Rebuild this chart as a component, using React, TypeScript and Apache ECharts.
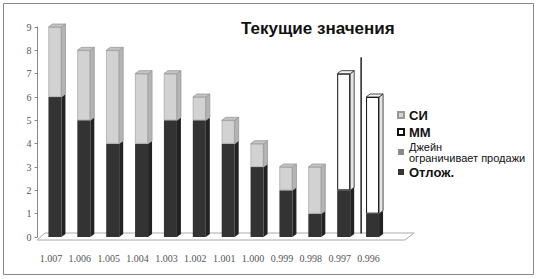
import React, { useEffect, useRef } from "react";
import * as echarts from "echarts";

const categories = ["1.007", "1.006", "1.005", "1.004", "1.003", "1.002", "1.001", "1.000", "0.999", "0.998", "0.997", "0.996"];
const otlozh = [6, 5, 4, 4, 5, 5, 4, 3, 2, 1, 2, 1];
const si: (number | null)[] = [3, 3, 4, 3, 2, 1, 1, 1, 1, 2, null, null];
const mm: (number | null)[] = [null, null, null, null, null, null, null, null, null, null, 5, 5];
const jane: (number | null)[] = categories.map(() => null);
const yTicks = [0, 1, 2, 3, 4, 5, 6, 7, 8, 9];

const DARK = "#333333";
const DARK_SIDE = "#222222";
const LIGHT = "#d2d2d2";
const LIGHT_SIDE = "#b4b4b4";
const LIGHT_TOP = "#c4c4c4";

export default function App() {
  const ref = useRef<HTMLDivElement>(null);
  useEffect(() => {
    document.body.style.margin = "0";
    const chart = echarts.init(ref.current!, undefined, { renderer: "svg" });
    const toSeries = (a: (number | null)[]) => a.map((v) => (v == null ? "-" : v));
    const depthData = categories.map((_, i) => [
      i,
      otlozh[i],
      si[i] != null ? (si[i] as number) : (mm[i] as number),
      si[i] != null ? 0 : 1,
    ]);
    const BW = 13;
    const boldLegend = { fontFamily: "Liberation Sans", fontWeight: "bold", fontSize: 13, lineHeight: 16, color: "#111" };
    const option: any = {
      animation: false,
      backgroundColor: "#ffffff",
      title: {
        text: "Текущие значения",
        left: 236,
        top: 15,
        textStyle: { fontFamily: "Liberation Sans", fontWeight: "bold", fontSize: 17, color: "#111" },
      },
      legend: {
        orient: "vertical",
        left: 392,
        top: 102,
        itemWidth: 6,
        itemHeight: 6,
        itemGap: 1,
        icon: "rect",
        data: [
          { name: "СИ", textStyle: boldLegend },
          { name: "ММ", textStyle: boldLegend },
          {
            name: "Джейн ограничивает продажи",
            textStyle: { fontFamily: "Liberation Sans", fontSize: 11, lineHeight: 11, color: "#111" },
          },
          { name: "Отлож.", textStyle: boldLegend },
        ],
        formatter: (name: string) =>
          name === "Джейн ограничивает продажи" ? "Джейн\nограничивает продажи" : name,
      },
      grid: { left: 40.5, right: 150, top: 27, bottom: 42, containLabel: false },
      xAxis: {
        type: "category",
        data: categories,
        offset: 3,
        axisLine: { show: false },
        axisTick: { show: false },
        axisLabel: {
          margin: 13,
          interval: 0,
          color: "#555",
          fontFamily: "Liberation Serif",
          fontSize: 10,
          padding: [0, 8, 0, 0],
        },
      },
      yAxis: {
        type: "value",
        min: 0,
        max: 9,
        interval: 1,
        offset: 3,
        splitLine: { show: false },
        axisLine: { show: true, lineStyle: { color: "#888" } },
        axisTick: { show: true, length: 3, lineStyle: { color: "#888" } },
        axisLabel: {
          margin: 6,
          color: "#555",
          fontFamily: "Liberation Serif",
          fontSize: 10,
          formatter: (v: number) => (yTicks.includes(v) ? String(v) : ""),
        },
      },
      graphic: [
        {
          type: "rect",
          shape: { x: 3.5, y: 3.5, width: 530, height: 271 },
          style: { fill: "none", stroke: "#888", lineWidth: 1 },
          silent: true,
        },
        {
          type: "polyline",
          shape: { points: [[37, 240], [405, 240], [414, 233], [45, 233], [37, 240]] },
          style: { fill: "none", stroke: "#aaa", lineWidth: 1 },
          silent: true,
          z: -1,
        },
      ],
      series: [
        {
          name: "Отлож.",
          type: "bar",
          stack: "s",
          barWidth: BW,
          data: otlozh,
          itemStyle: { color: DARK },
        },
        {
          name: "Джейн ограничивает продажи",
          type: "bar",
          stack: "s",
          barWidth: BW,
          data: toSeries(jane),
          itemStyle: { color: "#8a8a8a" },
        },
        {
          name: "СИ",
          type: "bar",
          stack: "s",
          barWidth: BW,
          data: toSeries(si),
          itemStyle: { color: LIGHT, borderColor: "#999", borderWidth: 0.6 },
        },
        {
          name: "ММ",
          type: "bar",
          stack: "s",
          barWidth: BW,
          data: toSeries(mm),
          itemStyle: { color: "#ffffff", borderColor: "#111", borderWidth: 1 },
        },
        {
          name: "depth",
          type: "custom",
          data: depthData,
          z: 3,
          silent: true,
          renderItem: (params: any, api: any) => {
            const i = api.value(0);
            const d = api.value(1);
            const t = api.value(2);
            const kind = api.value(3);
            const band = api.size([1, 0])[0];
            const p0 = api.coord([i, 0]);
            const p1 = api.coord([i, d]);
            const p2 = api.coord([i, d + t]);
            const xl = p0[0] - BW / 2;
            const xr = p0[0] + BW / 2;
            const dx = 4;
            const dy = -3;
            const sideFill = kind === 0 ? LIGHT_SIDE : "#e6e6e6";
            const topFill = kind === 0 ? LIGHT_TOP : "#f2f2f2";
            const stroke = kind === 0 ? "#999" : "#222";
            const children: any[] = [
              {
                type: "polygon",
                shape: { points: [[xr, p0[1]], [xr + dx, p0[1] + dy], [xr + dx, p1[1] + dy], [xr, p1[1]]] },
                style: { fill: DARK_SIDE },
              },
              {
                type: "polygon",
                shape: { points: [[xr, p1[1]], [xr + dx, p1[1] + dy], [xr + dx, p2[1] + dy], [xr, p2[1]]] },
                style: { fill: sideFill, stroke, lineWidth: 0.8 },
              },
              {
                type: "polygon",
                shape: { points: [[xl, p2[1]], [xl + dx, p2[1] + dy], [xr + dx, p2[1] + dy], [xr, p2[1]]] },
                style: { fill: topFill, stroke, lineWidth: 0.8 },
              },
            ];
            if (i === categories.length - 1) {
              const x = p0[0] - band / 2 + 3;
              const yTop = api.coord([i, 7.7])[1];
              const yBot = api.coord([i, 0.15])[1];
              children.push({
                type: "line",
                shape: { x1: x, y1: yTop, x2: x, y2: yBot },
                style: { stroke: "#222", lineWidth: 1.5 },
              });
            }
            return { type: "group", children };
          },
        },
      ],
    };
    chart.setOption(option);
    return () => chart.dispose();
  }, []);
  return <div ref={ref} style={{ width: 537, height: 279 }} />;
}
